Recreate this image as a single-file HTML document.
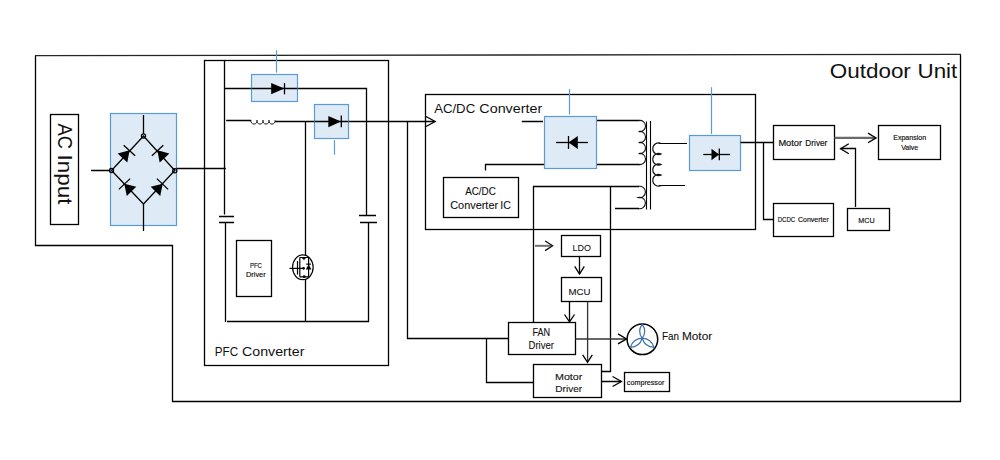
<!DOCTYPE html>
<html><head><meta charset="utf-8">
<style>
html,body{margin:0;padding:0;background:#fff;width:1000px;height:460px;overflow:hidden}
svg{display:block}
text{font-family:"Liberation Sans",sans-serif}
</style></head>
<body>
<svg width="1000" height="460" viewBox="0 0 1000 460">
<path d="M35.5,55.5 V245.5 H172.5 V401.5 H960.5 V54.5" fill="none" stroke="#000" stroke-width="1.3" />
<path d="M35,55.7 L961,54.35" fill="none" stroke="#262626" stroke-width="1.3" />
<rect x="50.5" y="114.5" width="28.00" height="110.00" fill="none" stroke="#000" stroke-width="1.3"/>
<rect x="110.5" y="113.5" width="66.00" height="112.00" fill="#deebf7" stroke="#5b9bd5" stroke-width="1.2"/>
<path d="M143.5,115 V134 M143.5,204 V231 M91,170.5 H109.5 M176.5,168.5 H225.8" fill="none" stroke="#000" stroke-width="1.3" />
<path d="M143.5,136 L111.5,170.5 L143.5,204 L174.8,170.5 Z" fill="none" stroke="#000" stroke-width="1.3" />
<circle cx="143.5" cy="136" r="2.1" fill="none" stroke="#000" stroke-width="1.2"/>
<circle cx="111.5" cy="170.5" r="2.1" fill="none" stroke="#000" stroke-width="1.2"/>
<circle cx="174.8" cy="170.7" r="2.1" fill="none" stroke="#000" stroke-width="1.2"/>
<g transform="translate(129.4,150.5) rotate(-47.2)"><polygon points="-10.2,-6.6 0.3,0 -10.2,6.6" fill="#000"/><line x1="0" y1="-7.8" x2="0" y2="7.8" stroke="#000" stroke-width="1.3"/></g>
<g transform="translate(157.6,150.5) rotate(-132.8)"><polygon points="-10.2,-6.6 0.3,0 -10.2,6.6" fill="#000"/><line x1="0" y1="-7.8" x2="0" y2="7.8" stroke="#000" stroke-width="1.3"/></g>
<g transform="translate(124.5,184) rotate(-133.7)"><polygon points="-10.2,-6.6 0.3,0 -10.2,6.6" fill="#000"/><line x1="0" y1="-7.8" x2="0" y2="7.8" stroke="#000" stroke-width="1.3"/></g>
<g transform="translate(162.5,184) rotate(-46.3)"><polygon points="-10.2,-6.6 0.3,0 -10.2,6.6" fill="#000"/><line x1="0" y1="-7.8" x2="0" y2="7.8" stroke="#000" stroke-width="1.3"/></g>
<rect x="204.5" y="60.5" width="184.00" height="305.00" fill="none" stroke="#000" stroke-width="1.3"/>
<path d="M224.5,60.5 V214.5 M219,216.5 H234 M219,222.5 H234 M225.5,222.5 V322 M227,321.5 H368.5 V222.5 M360,222.5 H377 M359,215.5 H376 M366.5,215.5 V88.5 H224.5" fill="none" stroke="#000" stroke-width="1.3" />
<path d="M226.2,120.5 H251 M275,121.5 H434 M305.5,121.5 V255.2 M305.5,279.6 V321.5" fill="none" stroke="#000" stroke-width="1.3" />
<path d="M251,120.2 a3.1,3.1 0 1 0 6,0 a3.1,3.1 0 1 0 6,0 a3.1,3.1 0 1 0 6,0 a3.1,3.1 0 1 0 6,0" fill="none" stroke="#1a1a1a" stroke-width="1.0" />
<path d="M426.0,116.5 L435.2,121.5 L426.0,126.5" fill="none" stroke="#000" stroke-width="1.3" stroke-linejoin="miter"/>
<path d="M407.5,121.5 V338.5 H508.5 M486.5,338.5 V382.5 H533.5" fill="none" stroke="#000" stroke-width="1.3" />
<rect x="251.5" y="74.5" width="46.00" height="27.00" fill="#deebf7" stroke="#5b9bd5" stroke-width="1.2"/>
<path d="M276.5,50.3 V72.5" fill="none" stroke="#5b9bd5" stroke-width="1.2" />
<path d="M251.5,88.5 H297.5" fill="none" stroke="#000" stroke-width="1.3" />
<polygon points="271.2,83 284.3,88.5 271.2,94.2" fill="#000"/>
<path d="M284.5,83 V94.3" fill="none" stroke="#000" stroke-width="1.3" />
<rect x="314.5" y="104.5" width="34.00" height="34.00" fill="#deebf7" stroke="#5b9bd5" stroke-width="1.2"/>
<path d="M334.5,140.2 V154.8" fill="none" stroke="#5b9bd5" stroke-width="1.2" />
<path d="M314.5,121.5 H348.5" fill="none" stroke="#000" stroke-width="1.3" />
<polygon points="328.3,115.9 341,121.5 328.3,127.2" fill="#000"/>
<path d="M341.3,115.5 V127.3" fill="none" stroke="#000" stroke-width="1.3" />
<rect x="236.5" y="240.5" width="35.00" height="56.00" fill="none" stroke="#000" stroke-width="1.3"/>
<g fill="none" stroke="#000" stroke-width="1.2"><ellipse cx="302.85" cy="267.3" rx="10.3" ry="12.4"/><path d="M289.5,268.3 H303.5 M297.5,261.1 V274.5 M299.8,257.5 V276.8 M299.8,257.5 H308.6 V276.8 H299.8 M305.5,255 V254 M306.2,264.2 H310.9"/></g>
<circle cx="303.9" cy="258.3" r="1.4" fill="#000"/>
<circle cx="303.5" cy="268.3" r="1.4" fill="#000"/>
<circle cx="304.2" cy="276.6" r="1.4" fill="#000"/>
<polygon points="305.8,269.4 311.4,269.4 308.6,264.2" fill="#000"/>
<rect x="425.5" y="94.5" width="330.00" height="135.00" fill="none" stroke="#000" stroke-width="1.3"/>
<path d="M521.8,121.5 H543 M485.5,170.5 V164.5 H544.5 M596.5,120.5 H639.5 M596.5,164.5 H639.5" fill="none" stroke="#000" stroke-width="1.3" />
<rect x="544.5" y="116.5" width="52.00" height="52.00" fill="#deebf7" stroke="#5b9bd5" stroke-width="1.2"/>
<path d="M569.5,89 V114.5" fill="none" stroke="#5b9bd5" stroke-width="1.2" />
<path d="M556,142.5 H588" fill="none" stroke="#000" stroke-width="1.3" />
<polygon points="577.8,136 568.5,142.5 577.8,149" fill="#000"/>
<path d="M568.5,136 V149" fill="none" stroke="#000" stroke-width="1.3" />
<path d="M638.60,120.50 A5.65,5.65 0 1 1 638.60,131.50 A5.65,5.65 0 1 1 638.60,142.50 A5.65,5.65 0 1 1 638.60,153.50 A5.65,5.65 0 1 1 638.60,164.50" fill="none" stroke="#111" stroke-width="1.1" />
<path d="M661.20,143.50 A5.85,5.85 0 1 0 661.20,154.00 A5.85,5.85 0 1 0 661.20,164.50 A5.85,5.85 0 1 0 661.20,175.00 A5.85,5.85 0 1 0 661.20,185.50" fill="none" stroke="#111" stroke-width="1.1" />
<path d="M638.00,186.50 A5.75,5.75 0 1 1 638.00,197.50 A5.75,5.75 0 1 1 638.00,208.50" fill="none" stroke="#111" stroke-width="1.1" />
<path d="M646.5,121.5 V209.5 M650.5,121 V209.5" fill="none" stroke="#000" stroke-width="1.1" />
<path d="M658.8,143.5 H687 M658.8,185.5 H685" fill="none" stroke="#000" stroke-width="1.2" />
<path d="M533.5,322.5 V186.5 H639 M610.5,186.5 V371.5 H601.5 M615,208.5 H639" fill="none" stroke="#000" stroke-width="1.3" />
<rect x="443.5" y="177.5" width="75.00" height="40.00" fill="none" stroke="#000" stroke-width="1.3"/>
<rect x="689.5" y="135.5" width="51.00" height="35.00" fill="#deebf7" stroke="#5b9bd5" stroke-width="1.2"/>
<path d="M711.5,87.2 V134" fill="none" stroke="#5b9bd5" stroke-width="1.2" />
<path d="M703.3,154.5 H730" fill="none" stroke="#000" stroke-width="1.3" />
<polygon points="711.5,148.7 719,154.5 711.5,160.2" fill="#000"/>
<path d="M719.3,148.5 V160.3" fill="none" stroke="#000" stroke-width="1.3" />
<path d="M740.5,142.5 H773.5 M763.5,142.5 V219.5 H773.5" fill="none" stroke="#000" stroke-width="1.3" />
<rect x="773.5" y="125.5" width="61.00" height="34.00" fill="none" stroke="#000" stroke-width="1.3"/>
<rect x="878.5" y="125.5" width="62.00" height="34.00" fill="none" stroke="#000" stroke-width="1.3"/>
<rect x="773.5" y="203.5" width="60.00" height="33.00" fill="none" stroke="#000" stroke-width="1.3"/>
<rect x="847.5" y="208.5" width="42.00" height="22.00" fill="none" stroke="#000" stroke-width="1.3"/>
<path d="M855.5,207 V148.5 H840.5" fill="none" stroke="#000" stroke-width="1.3" />
<path d="M848.8000000000001,143.7 L840.6,148.7 L848.8000000000001,153.7" fill="none" stroke="#000" stroke-width="1.3" />
<path d="M834.5,137.9 H875" fill="none" stroke="#6a6a6a" stroke-width="2.1" />
<path d="M868.0,133.1 L876,137.9 L868.0,142.70000000000002" fill="none" stroke="#000" stroke-width="1.3" stroke-linejoin="miter"/>
<rect x="561.5" y="235.5" width="39.00" height="21.00" fill="none" stroke="#000" stroke-width="1.3"/>
<rect x="561.5" y="277.5" width="40.00" height="24.00" fill="none" stroke="#000" stroke-width="1.3"/>
<rect x="508.5" y="322.5" width="67.00" height="32.00" fill="none" stroke="#000" stroke-width="1.3"/>
<rect x="533.5" y="364.5" width="68.00" height="33.00" fill="none" stroke="#000" stroke-width="1.3"/>
<rect x="624.5" y="372.5" width="45.00" height="19.00" fill="none" stroke="#000" stroke-width="1.3"/>
<path d="M579.5,256.5 V273.5 M569.5,301.5 V321.5 M601.5,381.5 H621" fill="none" stroke="#000" stroke-width="1.3" />
<path d="M587.6,301.5 V361.8" fill="none" stroke="#333" stroke-width="1.3" />
<path d="M575.5,338.9 H626" fill="none" stroke="#333" stroke-width="1.5" />
<path d="M574.7,266.3 L579.5,274 L584.3,266.3" fill="none" stroke="#000" stroke-width="1.3" />
<path d="M564.5,314.5 L569.5,321.9 L574.5,314.5" fill="none" stroke="#000" stroke-width="1.3" />
<path d="M582.7,354.8 L587.5,362.3 L592.3,354.8" fill="none" stroke="#000" stroke-width="1.3" />
<path d="M618.0,333.9 L626.5,338.9 L618.0,343.9" fill="none" stroke="#000" stroke-width="1.3" stroke-linejoin="miter"/>
<path d="M612.6,376.5 L621.4,381.5 L612.6,386.5" fill="none" stroke="#000" stroke-width="1.3" stroke-linejoin="miter"/>
<path d="M535,245.8 H551.5" fill="none" stroke="#6f6f6f" stroke-width="2.0" />
<path d="M545.1,241.0 L552.6,245.8 L545.1,250.60000000000002" fill="none" stroke="#111" stroke-width="1.3" stroke-linejoin="miter"/>
<circle cx="642.4" cy="339.3" r="15.3" fill="none" stroke="#000" stroke-width="1.5"/>
<path d="M642.20,338.20 C638.80,333.65 638.80,328.95 642.20,324.40 C645.60,328.95 645.60,333.65 642.20,338.20 Z M642.20,338.20 C648.19,338.57 652.21,341.71 654.02,347.43 C648.03,347.07 644.01,343.93 642.20,338.20 Z M642.20,338.20 C640.39,343.93 636.37,347.07 630.38,347.43 C632.19,341.71 636.21,338.57 642.20,338.20 Z" fill="none" stroke="#3f72ad" stroke-width="1.2"/>
<text transform="translate(57.5,0) rotate(90)" x="123.55" y="0" font-size="20.87" fill="#111" textLength="25.39" lengthAdjust="spacingAndGlyphs">AC</text>
<text transform="translate(57.5,0) rotate(90)" x="154.53" y="0" font-size="20.87" fill="#111" textLength="49.87" lengthAdjust="spacingAndGlyphs">Input</text>
<text x="214.82" y="355.8" font-size="13.62" fill="#111" textLength="23.31" lengthAdjust="spacingAndGlyphs">PFC</text>
<text x="242.04" y="355.8" font-size="13.62" fill="#111" textLength="62.4" lengthAdjust="spacingAndGlyphs">Converter</text>
<text x="434.15" y="112.7" font-size="13.33" fill="#111" textLength="41.02" lengthAdjust="spacingAndGlyphs">AC/DC</text>
<text x="479.33" y="112.7" font-size="13.33" fill="#111" textLength="62.9" lengthAdjust="spacingAndGlyphs">Converter</text>
<text x="829.75" y="78.1" font-size="19.86" fill="#111" textLength="81.09" lengthAdjust="spacingAndGlyphs">Outdoor</text>
<text x="917.48" y="78.1" font-size="19.86" fill="#111" textLength="39.82" lengthAdjust="spacingAndGlyphs">Unit</text>
<text x="465.15" y="194.6" font-size="10.36" fill="#111" textLength="30.62" lengthAdjust="spacingAndGlyphs" stroke="#111" stroke-width="0.1">AC/DC</text>
<text x="450.2" y="208.6" font-size="10.36" fill="#111" textLength="47.89" lengthAdjust="spacingAndGlyphs" stroke="#111" stroke-width="0.1">Converter</text>
<text x="500.3" y="208.6" font-size="10.36" fill="#111" textLength="10.59" lengthAdjust="spacingAndGlyphs" stroke="#111" stroke-width="0.1">IC</text>
<text x="778.41" y="145.8" font-size="8.19" fill="#111" textLength="23.66" lengthAdjust="spacingAndGlyphs" stroke="#111" stroke-width="0.16">Motor</text>
<text x="805.39" y="145.8" font-size="8.19" fill="#111" textLength="21.97" lengthAdjust="spacingAndGlyphs" stroke="#111" stroke-width="0.16">Driver</text>
<text x="777.67" y="222.1" font-size="7.17" fill="#111" textLength="17.48" lengthAdjust="spacingAndGlyphs" stroke="#111" stroke-width="0.16">DCDC</text>
<text x="798.0" y="222.1" font-size="7.17" fill="#111" textLength="30.74" lengthAdjust="spacingAndGlyphs" stroke="#111" stroke-width="0.16">Converter</text>
<text x="661.96" y="339.7" font-size="10.65" fill="#111" textLength="17.05" lengthAdjust="spacingAndGlyphs" stroke="#111" stroke-width="0.1">Fan</text>
<text x="681.9" y="339.7" font-size="10.65" fill="#111" textLength="30.3" lengthAdjust="spacingAndGlyphs" stroke="#111" stroke-width="0.1">Motor</text>
<text x="249.97" y="268.1" font-size="7.75" fill="#111" textLength="11.97" lengthAdjust="spacingAndGlyphs" stroke="#111" stroke-width="0.16">PFC</text>
<text x="245.96" y="277" font-size="7.03" fill="#111" textLength="19.69" lengthAdjust="spacingAndGlyphs" stroke="#111" stroke-width="0.16">Driver</text>
<text x="893.18" y="139.8" font-size="6.74" fill="#111" textLength="33.06" lengthAdjust="spacingAndGlyphs" stroke="#111" stroke-width="0.16">Expansion</text>
<text x="901.15" y="149.6" font-size="7.03" fill="#111" textLength="17.16" lengthAdjust="spacingAndGlyphs" stroke="#111" stroke-width="0.16">Valve</text>
<text x="858.38" y="223" font-size="7.03" fill="#111" textLength="16.29" lengthAdjust="spacingAndGlyphs" stroke="#111" stroke-width="0.16">MCU</text>
<text x="572.54" y="250.8" font-size="9.93" fill="#111" textLength="18.34" lengthAdjust="spacingAndGlyphs" stroke="#111" stroke-width="0.1">LDO</text>
<text x="568.48" y="295" font-size="9.93" fill="#111" textLength="21.97" lengthAdjust="spacingAndGlyphs" stroke="#111" stroke-width="0.1">MCU</text>
<text x="532.42" y="336.2" font-size="10.07" fill="#111" textLength="17.68" lengthAdjust="spacingAndGlyphs" stroke="#111" stroke-width="0.1">FAN</text>
<text x="528.59" y="349.1" font-size="10.07" fill="#111" textLength="25.39" lengthAdjust="spacingAndGlyphs" stroke="#111" stroke-width="0.1">Driver</text>
<text x="554.99" y="379.9" font-size="9.64" fill="#111" textLength="27.4" lengthAdjust="spacingAndGlyphs" stroke="#111" stroke-width="0.1">Motor</text>
<text x="555.35" y="391.6" font-size="9.2" fill="#111" textLength="26.73" lengthAdjust="spacingAndGlyphs" stroke="#111" stroke-width="0.1">Driver</text>
<text x="626.86" y="384.8" font-size="7.3" fill="#111" textLength="37.48" lengthAdjust="spacingAndGlyphs" stroke="#111" stroke-width="0.16">compressor</text>
</svg>
</body></html>
